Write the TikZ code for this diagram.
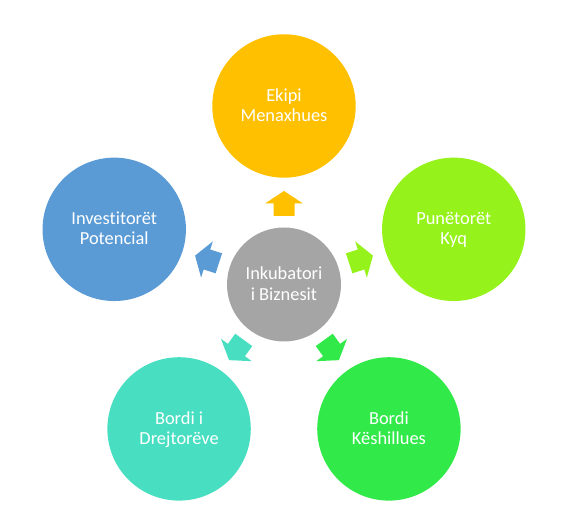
\documentclass[tikz,border=0pt]{standalone}
\usepackage{fontspec}
\setmainfont{Carlito}[Ligatures=NoCommon]
\definecolor{cTop}{HTML}{FFC000}
\definecolor{cLeft}{HTML}{5B9BD5}
\definecolor{cRight}{HTML}{95F21A}
\definecolor{cBL}{HTML}{48DEC1}
\definecolor{cBR}{HTML}{32E94A}
\definecolor{cHub}{HTML}{A5A5A5}
\newcommand{\twoline}[2]{\raisebox{0pt}[10.7pt][0pt]{#1}\\\raisebox{0pt}[0pt][0pt]{#2}}
\begin{document}
\begin{tikzpicture}[x=1pt,y=1pt,
  sat/.style={circle,minimum size=143.4pt,inner sep=0pt,align=center,text=white,
    font=\fontsize{18.4}{20.5}\selectfont,text depth=0pt},
  hub/.style={sat,minimum size=114pt}]
\useasboundingbox (-284,284.5) rectangle (296,-241.5);
\node[hub,fill=cHub] (hub) at (0,0) {\twoline{Inkubatori}{i Biznesit}};
\node[sat,fill=cTop] (top) at (90:178.5) {\twoline{Ekipi}{Menaxhues}};
\node[sat,fill=cLeft] (left) at (162:178.5) {\twoline{Investitorët}{Potencial}};
\node[sat,fill=cRight] (right) at (18:178.5) {\twoline{Punëtorët}{Kyq}};
\node[sat,fill=cBL] (bl) at (234:178.5) {\twoline{Bordi i}{Drejtorëve}};
\node[sat,fill=cBR] (br) at (306:178.5) {\twoline{Bordi}{Këshillues}};
\foreach \a/\c in {90/cTop,162/cLeft,18/cRight,234/cBL,306/cBR}
  \fill[\c,shift={(hub.center)},rotate=\a-90] (-10.5,68.5) -- (10.5,68.5) -- (10.5,81)
    -- (19,81) -- (0,93.5) -- (-19,81) -- (-10.5,81) -- cycle;
\end{tikzpicture}
\end{document}
